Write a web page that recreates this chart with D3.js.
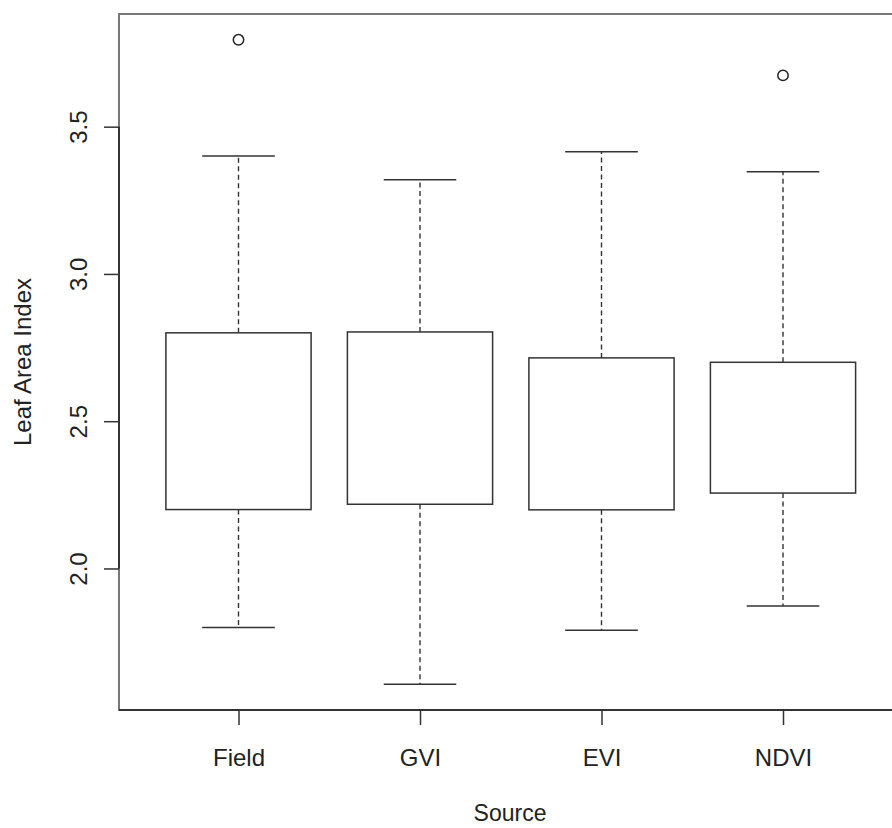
<!DOCTYPE html>
<html>
<head>
<meta charset="utf-8">
<script src="https://cdn.jsdelivr.net/npm/d3@7"></script>
<style>
  body { margin: 0; background: #fff; }
  text { font-family: "Liberation Sans", Arial, Helvetica, sans-serif; fill: #222; }
</style>
</head>
<body>
<div class="mainContainer"></div>
<script>
// box plot stats
const categories = ["Field", "GVI", "EVI", "NDVI"];
const lowerWhisker = [1.80, 1.607, 1.79, 1.873];
const q1 = [2.20, 2.218, 2.199, 2.256];
const q3 = [2.80, 2.803, 2.715, 2.70];
const upperWhisker = [3.40, 3.32, 3.415, 3.347];
const outliers = [[3.795], [], [], [3.674]];
const yTicks = [2.0, 2.5, 3.0, 3.5];

let width = 892;
let height = 828;
let plotLeft = 119, plotTop = 14, plotBottom = 710, plotRight = 901;

const svg = d3.select(".mainContainer")
  .append("svg")
  .attr("width", width)
  .attr("height", height);

// R style: extend the data range by 4% on each side
let allVals = lowerWhisker.concat(upperWhisker, outliers.flat());
let lo = d3.min(allVals), hi = d3.max(allVals);
let pad = (hi - lo) * 0.04;

const y = d3.scaleLinear()
  .domain([lo - pad, hi + pad])
  .range([plotBottom, plotTop]);

const x = d3.scalePoint()
  .domain(categories)
  .range([238.5, 783]);

let boxW = x.step() * 0.8;

const data = categories.map((c, i) => ({
  name: c, lw: lowerWhisker[i], q1: q1[i], q3: q3[i], uw: upperWhisker[i], out: outliers[i]
}));

// plot frame
svg.append("rect")
  .attr("x", plotLeft).attr("y", plotTop)
  .attr("width", plotRight - plotLeft).attr("height", plotBottom - plotTop)
  .attr("fill", "none")
  .attr("stroke", "#777")
  .attr("stroke-width", 2);

const g = svg.selectAll(".box")
  .data(data)
  .enter()
  .append("g")
  .attr("class", "box");

// whiskers (dashed)
g.append("line")
  .attr("x1", d => x(d.name)).attr("x2", d => x(d.name))
  .attr("y1", d => y(d.q3)).attr("y2", d => y(d.uw))
  .attr("stroke", "#333").attr("stroke-width", 1.4)
  .attr("stroke-dasharray", "5,3.5");
g.append("line")
  .attr("x1", d => x(d.name)).attr("x2", d => x(d.name))
  .attr("y1", d => y(d.q1)).attr("y2", d => y(d.lw))
  .attr("stroke", "#333").attr("stroke-width", 1.4)
  .attr("stroke-dasharray", "5,3.5");

// whisker caps
g.selectAll(".cap")
  .data(d => [{n: d.name, v: d.uw}, {n: d.name, v: d.lw}])
  .enter()
  .append("line")
  .attr("x1", d => x(d.n) - boxW / 4).attr("x2", d => x(d.n) + boxW / 4)
  .attr("y1", d => y(d.v)).attr("y2", d => y(d.v))
  .attr("stroke", "#333").attr("stroke-width", 1.5);

// boxes
g.append("rect")
  .attr("x", d => x(d.name) - boxW / 2)
  .attr("y", d => y(d.q3))
  .attr("width", boxW)
  .attr("height", d => y(d.q1) - y(d.q3))
  .attr("fill", "#fff")
  .attr("stroke", "#333")
  .attr("stroke-width", 1.5);

// outliers
g.selectAll(".out")
  .data(d => d.out.map(v => ({n: d.name, v: v})))
  .enter()
  .append("circle")
  .attr("cx", d => x(d.n))
  .attr("cy", d => y(d.v))
  .attr("r", 5.2)
  .attr("fill", "none")
  .attr("stroke", "#222")
  .attr("stroke-width", 1.5);

// y axis
const yAxis = svg.append("g")
  .attr("transform", "translate(" + plotLeft + ",0)")
  .call(d3.axisLeft(y).tickValues(yTicks).tickSize(15).tickSizeOuter(0).tickFormat(d3.format(".1f")));
yAxis.select(".domain").remove();
yAxis.selectAll(".tick line").attr("stroke", "#333").attr("stroke-width", 1.5);
yAxis.selectAll(".tick text")
  .attr("transform", "rotate(-90)")
  .attr("x", 0).attr("y", -32).attr("dy", 0)
  .attr("text-anchor", "middle")
  .style("font-size", "24px");
yAxis.append("line")
  .attr("x1", 0).attr("x2", 0)
  .attr("y1", y(yTicks[0])).attr("y2", y(yTicks[yTicks.length - 1]))
  .attr("stroke", "#333").attr("stroke-width", 2);

// x axis
const xAxis = svg.append("g")
  .attr("transform", "translate(0," + plotBottom + ")")
  .call(d3.axisBottom(x).tickSize(15).tickSizeOuter(0));
xAxis.select(".domain").remove();
xAxis.selectAll(".tick line").attr("stroke", "#333").attr("stroke-width", 1.5);
xAxis.selectAll(".tick text")
  .attr("y", 56).attr("dy", 0)
  .style("font-size", "24px");
xAxis.append("line")
  .attr("x1", plotLeft).attr("x2", width)
  .attr("y1", 0).attr("y2", 0)
  .attr("stroke", "#333").attr("stroke-width", 2);

// axis titles
svg.append("text")
  .attr("x", (plotLeft + plotRight) / 2)
  .attr("y", 821)
  .attr("text-anchor", "middle")
  .style("font-size", "23px")
  .text("Source");

svg.append("text")
  .attr("transform", "translate(31," + (plotTop + plotBottom) / 2 + ") rotate(-90)")
  .attr("text-anchor", "middle")
  .style("font-size", "24px")
  .text("Leaf Area Index");
</script>
</body>
</html>
